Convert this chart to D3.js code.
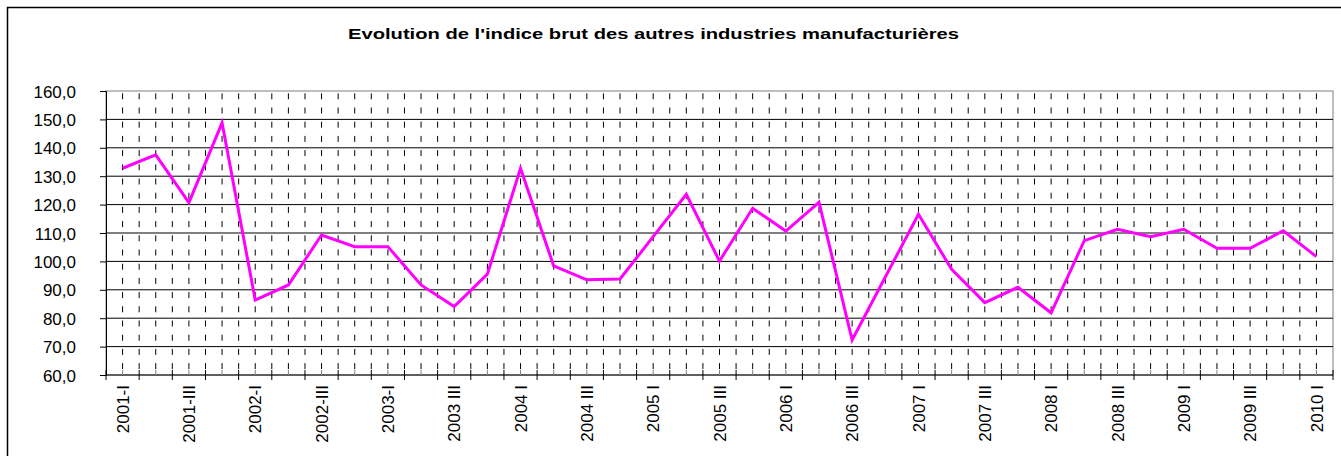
<!DOCTYPE html>
<html>
<head>
  <meta charset="utf-8">
  <script src="https://cdn.jsdelivr.net/npm/d3@7"></script>
  <style>
    body { margin: 0; background: #fff; }
    svg text { font-family: "Liberation Sans", Arial, sans-serif; fill: #000; }
  </style>
</head>
<body>
<script>
  // quarters, 2001-I .. 2010-I
  var quarters = [
    "2001-I", "2001-II", "2001-III", "2001-IV",
    "2002-I", "2002-II", "2002-III", "2002-IV",
    "2003-I", "2003-II", "2003 III", "2003 IV",
    "2004 I", "2004 II", "2004 III", "2004 IV",
    "2005 I", "2005 II", "2005 III", "2005 IV",
    "2006 I", "2006 II", "2006 III", "2006 IV",
    "2007 I", "2007 II", "2007 III", "2007 IV",
    "2008 I", "2008 II", "2008 III", "2008 IV",
    "2009 I", "2009 II", "2009 III", "2009 IV",
    "2010 I"
  ];
  var indice = [
    132.8, 137.5, 120.7, 148.8,
    86.4, 91.7, 109.3, 105.2,
    105.2, 91.7, 84.1, 95.5,
    132.8, 98.4, 93.5, 93.8,
    108.7, 123.6, 100.1, 118.7,
    110.7, 120.8, 72.3, 94.5,
    116.6, 97.2, 85.5, 90.9,
    81.9, 107.3, 111.3, 108.7,
    111.3, 104.6, 104.6, 110.8,
    101.7
  ];
  var yTicks = [60, 70, 80, 90, 100, 110, 120, 130, 140, 150, 160];
  var title = "Evolution de l'indice brut des autres industries manufacturières";

  function draw() {
    var W = 1341, H = 456;
    var pLeft = 106, pRight = 1333, pTop = 91, pBottom = 375;

    var svg = d3.select("body").append("svg")
      .attr("width", W).attr("height", H);

    // chart border
    svg.append("rect")
      .attr("x", 7.5).attr("y", 7.5)
      .attr("width", W).attr("height", H)
      .attr("fill", "#fff").attr("stroke", "#000").attr("stroke-width", 1.5);

    svg.append("text")
      .attr("x", 348).attr("y", 38.5)
      .attr("textLength", 611).attr("lengthAdjust", "spacingAndGlyphs")
      .style("font-size", "15px").style("font-weight", "bold")
      .text(title);

    var x = d3.scaleBand().domain(quarters).range([pLeft, pRight]).padding(0);
    var bw = x.bandwidth();
    var y = d3.scaleLinear().domain([60, 160]).range([pBottom, pTop]);

    // plot area border
    svg.append("rect")
      .attr("x", pLeft).attr("y", pTop)
      .attr("width", pRight - pLeft).attr("height", pBottom - pTop)
      .attr("fill", "none").attr("stroke", "#808080").attr("stroke-width", 1);

    // horizontal gridlines
    svg.append("g").selectAll("line")
      .data(yTicks.slice(1, -1))
      .enter().append("line")
      .attr("x1", pLeft).attr("x2", pRight)
      .attr("y1", function(d) { return y(d); })
      .attr("y2", function(d) { return y(d); })
      .attr("stroke", "#000").attr("stroke-width", 1);

    // vertical dashed gridlines at band edges and centers
    var vx = [];
    quarters.forEach(function(q, i) {
      if (i > 0) vx.push(x(q));
      vx.push(x(q) + bw / 2);
    });
    svg.append("g").selectAll("line")
      .data(vx)
      .enter().append("line")
      .attr("x1", function(d) { return d; })
      .attr("x2", function(d) { return d; })
      .attr("y1", pTop + 2.3).attr("y2", pBottom)
      .attr("stroke", "#000").attr("stroke-width", 1)
      .attr("stroke-dasharray", "6,8.2");

    // y axis
    var yAxis = d3.axisLeft(y).tickValues(yTicks).tickSize(6)
      .tickFormat(function(d) { return d3.format(".1f")(d).replace(".", ","); });
    var gy = svg.append("g").attr("transform", "translate(" + pLeft + ",0)").call(yAxis);
    gy.select(".domain").attr("stroke", "#000");
    gy.selectAll(".tick line").attr("stroke", "#000");
    gy.selectAll(".tick text")
      .attr("x", -30).attr("dy", "0.36em")
      .style("font-size", "17px").style("font-family", "Liberation Sans, Arial, sans-serif");

    // x axis
    var gx = svg.append("g");
    gx.append("line")
      .attr("x1", pLeft).attr("x2", pRight)
      .attr("y1", pBottom).attr("y2", pBottom)
      .attr("stroke", "#000");
    var edges = quarters.map(function(q) { return x(q); }).concat([pRight]);
    gx.selectAll("line.major").data(edges).enter().append("line")
      .attr("class", "major")
      .attr("x1", function(d) { return d; }).attr("x2", function(d) { return d; })
      .attr("y1", pBottom - 5).attr("y2", pBottom + 5)
      .attr("stroke", "#000");
    gx.selectAll("line.minor").data(quarters).enter().append("line")
      .attr("class", "minor")
      .attr("x1", function(d) { return x(d) + bw / 2; })
      .attr("x2", function(d) { return x(d) + bw / 2; })
      .attr("y1", pBottom - 5).attr("y2", pBottom)
      .attr("stroke", "#808080");

    gx.selectAll("text")
      .data(quarters.filter(function(q, i) { return i % 2 === 0; }))
      .enter().append("text")
      .attr("transform", function(d) {
        return "translate(" + (x(d) + bw / 2) + "," + 385 + ") rotate(-90)";
      })
      .attr("text-anchor", "end")
      .attr("dy", "0.36em")
      .style("font-size", "17px")
      .text(function(d) { return d; });

    // series
    var line = d3.line()
      .x(function(d, i) { return x(quarters[i]) + bw / 2; })
      .y(function(d) { return y(d); });
    svg.append("path")
      .datum(indice)
      .attr("d", line)
      .attr("fill", "none")
      .attr("stroke", "#FF00FF")
      .attr("stroke-width", 3)
      .attr("stroke-linejoin", "miter");
  }

  draw();
</script>
</body>
</html>
